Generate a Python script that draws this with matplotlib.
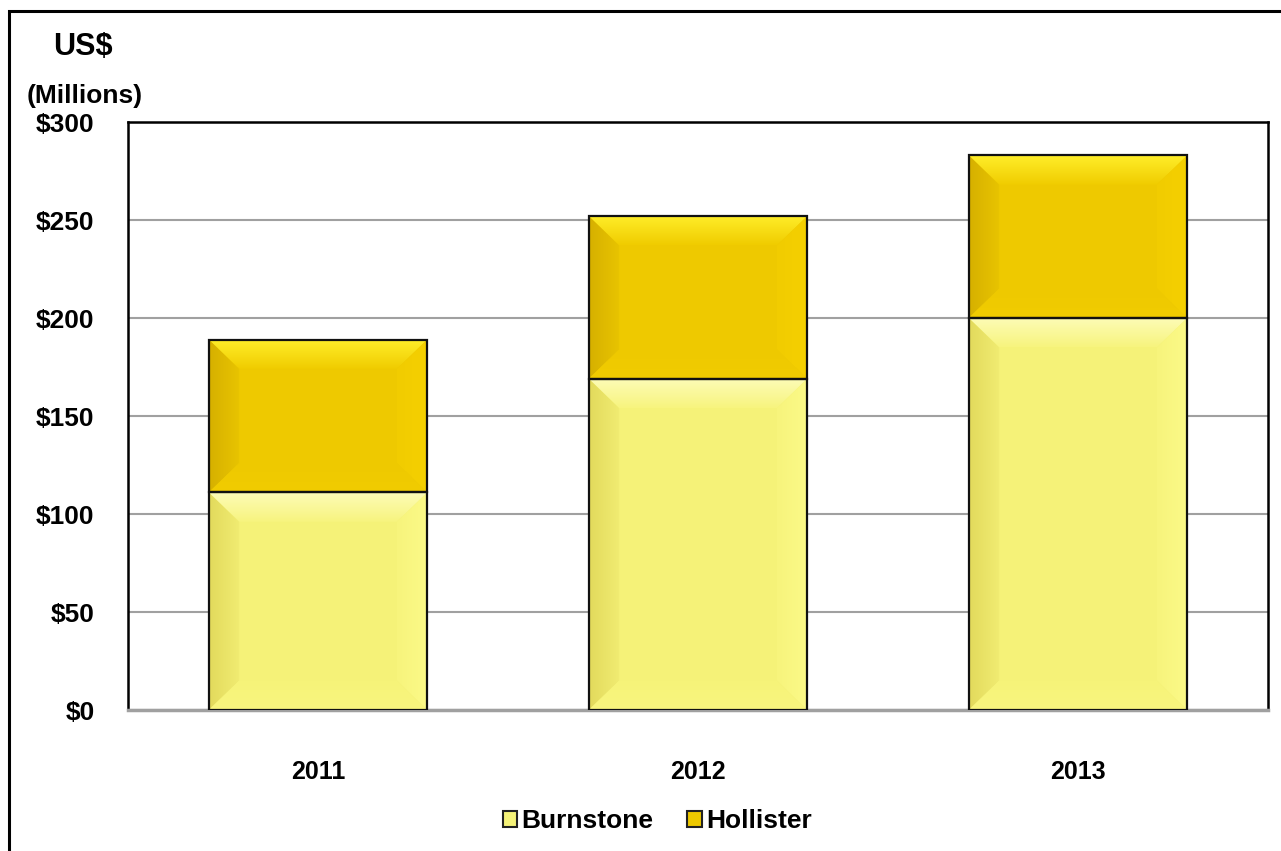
import numpy as np
import matplotlib
matplotlib.use("Agg")
import matplotlib.pyplot as plt
from matplotlib.colors import to_rgb
from matplotlib.patches import Polygon, Rectangle, Patch

plt.rcParams['font.family'] = ['Liberation Sans', 'DejaVu Sans']
plt.rcParams['font.weight'] = 'bold'

years = ['2011', '2012', '2013']
burnstone = [111, 169, 200]
hollister = [78, 83, 83]
yticks = [0, 50, 100, 150, 200, 250, 300]
ytick_labels = ['$0', '$50', '$100', '$150', '$200', '$250', '$300']

# face colour and (outer, inner) shades for each bevel side
burn_cols = {'face': '#F5F278',
             'top': ('#FDFCB8', '#F7F47E'), 'left': ('#E2DA5C', '#F1EC72'),
             'right': ('#FCFA88', '#F7F47C'), 'bottom': ('#F9F67E', '#F6F379')}
holl_cols = {'face': '#EEC900',
             'top': ('#FFEE2A', '#F0CC00'), 'left': ('#D6B000', '#E8C400'),
             'right': ('#F5D000', '#F1CC00'), 'bottom': ('#F1CC00', '#EEC900')}

fig = plt.figure(figsize=(12.81, 8.51), dpi=100)
ax = fig.add_axes([128 / 1281, 1 - 710 / 851, 1140 / 1281, 588 / 851])

x = np.arange(len(years))
w = 0.575


def shade(ax, pts, extent, vertical, outer_at_max, c_out, c_in):
    n = 64
    t = np.linspace(0, 1, n)
    if outer_at_max:
        t = t
    else:
        t = t[::-1]
    a, b = np.array(to_rgb(c_in)), np.array(to_rgb(c_out))
    cols = a[None, :] * (1 - t[:, None]) + b[None, :] * t[:, None]
    img = cols[:, None, :] if vertical else cols[None, :, :]
    poly = Polygon(pts, closed=True, facecolor='none', edgecolor='none', transform=ax.transData)
    ax.add_patch(poly)
    im = ax.imshow(img, extent=extent, origin='lower', aspect='auto', zorder=3, interpolation='bilinear')
    im.set_clip_path(poly)


def bevel(ax, xc, bottom, height, cols):
    x0, x1 = xc - w / 2, xc + w / 2
    y0, y1 = bottom, bottom + height
    dx = 0.08
    dy = min(15, height / 2)
    xi0, xi1 = x0 + dx, x1 - dx
    yi0, yi1 = y0 + dy, y1 - dy
    shade(ax, [(x0, y1), (x1, y1), (xi1, yi1), (xi0, yi1)], (x0, x1, yi1, y1), True, True, *cols['top'])
    shade(ax, [(x0, y0), (x0, y1), (xi0, yi1), (xi0, yi0)], (x0, xi0, y0, y1), False, False, *cols['left'])
    shade(ax, [(x1, y0), (x1, y1), (xi1, yi1), (xi1, yi0)], (xi1, x1, y0, y1), False, True, *cols['right'])
    shade(ax, [(x0, y0), (x1, y0), (xi1, yi0), (xi0, yi0)], (x0, x1, y0, yi0), True, False, *cols['bottom'])


ax.bar(x, burnstone, w, color=burn_cols['face'], edgecolor='none', zorder=2)
ax.bar(x, hollister, w, bottom=burnstone, color=holl_cols['face'], edgecolor='none', zorder=2)
for i in range(len(years)):
    bevel(ax, x[i], 0, burnstone[i], burn_cols)
    bevel(ax, x[i], burnstone[i], hollister[i], holl_cols)
# outlines above the bevels
ax.bar(x, burnstone, w, color='none', edgecolor='#111111', linewidth=1.6, zorder=4)
ax.bar(x, hollister, w, bottom=burnstone, color='none', edgecolor='#111111', linewidth=1.6, zorder=4)

ax.set_xlim(-0.5, 2.5)
ax.set_ylim(0, 300)
ax.set_yticks(yticks)
ax.set_yticklabels(ytick_labels, fontsize=19, fontweight='bold')
ax.set_xticks(x)
ax.set_xticklabels(years, fontsize=18, fontweight='bold')
ax.tick_params(axis='y', length=0, pad=24)
ax.tick_params(axis='x', length=0, pad=36)
ax.yaxis.grid(True, color='#A0A0A0', linewidth=1.5, zorder=0)
ax.set_axisbelow(True)
for s in ['left', 'top', 'right']:
    ax.spines[s].set_color('black')
    ax.spines[s].set_linewidth(1.8)
ax.spines['bottom'].set_color('#A0A0A0')
ax.spines['bottom'].set_linewidth(2.5)

fig.text(83 / 1281, 1 - 47 / 851, 'US$', fontsize=22, fontweight='bold', ha='center', va='center')
fig.text(85 / 1281, 1 - 96 / 851, '(Millions)', fontsize=19, fontweight='bold', ha='center', va='center')

handles = [Patch(facecolor=burn_cols['face'], edgecolor='#222222', linewidth=1.5),
           Patch(facecolor=holl_cols['face'], edgecolor='#222222', linewidth=1.5)]
fig.legend(handles, ['Burnstone', 'Hollister'], loc='center', bbox_to_anchor=(0.513, 1 - 821 / 851),
           ncol=2, frameon=False, handlelength=0.55, handleheight=0.55,
           handletextpad=0.15, columnspacing=1.3, prop={'weight': 'bold', 'size': 19})

# outer frame
fig.add_artist(Rectangle((8.5 / 1281, -0.1), 1.2, 1 - 11 / 851 + 0.1, transform=fig.transFigure,
                         fill=False, edgecolor='black', linewidth=2.2, clip_on=False))

fig.savefig('out.png', dpi=100)
